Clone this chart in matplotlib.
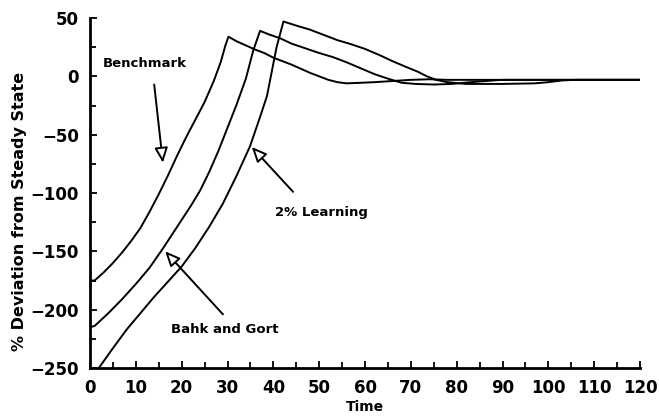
import matplotlib
matplotlib.use("Agg")
import matplotlib.pyplot as plt
from matplotlib.ticker import MultipleLocator

# values
bench_t = [0, 1, 3, 5, 7, 9, 11, 13, 15, 17, 19, 21, 23, 25, 27, 28.5, 29.5, 30.2,
           32, 34, 36, 38, 40, 42, 44, 46, 48, 50, 52, 54, 56, 58, 62, 66, 70, 74, 78, 120]
bench_v = [-175, -175, -168, -160, -151, -141, -130, -116, -101, -85, -68, -52, -37, -22, -4, 12, 26, 34,
           30, 26.5, 23, 20, 16, 13, 10, 6.5, 3, 0, -3, -5, -6, -5.7, -5, -4, -3, -2.5, -3, -3]

bahk_t = [0, 1, 4, 7, 10, 13, 16, 18, 20, 22, 24, 26, 28, 30, 32, 34, 35.6, 37.1,
          39, 41.5, 44, 47, 50, 53, 56, 59, 62, 65, 68, 71, 75, 79, 83, 87, 90, 120]
bahk_v = [-215, -214, -203, -191, -178, -164, -147, -135, -123, -111, -98, -82, -64, -44, -24, -2, 22, 39,
          36, 32.6, 28, 24, 20, 16.5, 12, 7, 2, -2, -5.5, -6.5, -7, -6.5, -5, -3.8, -3, -3]

learn_t = [0, 2.1, 5, 8, 11, 14, 17, 20, 23, 26, 29, 32, 34.9, 37, 38.6, 40.7, 42.2,
           45, 48, 51, 54, 57, 60, 63, 66, 69, 71.5, 73.5, 75.5, 78, 82, 90, 97, 100, 103, 106, 120]
learn_v = [-260, -249, -233, -217, -203, -189, -176, -163, -147, -129, -109, -85, -60, -36, -17, 25, 47,
           43.5, 40, 35.5, 31, 27.5, 23.5, 18.5, 13, 8, 4, 0, -3, -5, -6.5, -6.5, -6, -5, -3.5, -3, -3]

x_ticks = list(range(0, 121, 10))
y_ticks = [50, 0, -50, -100, -150, -200, -250]

fig = plt.figure(figsize=(6.59, 4.17), dpi=100)
ax = fig.add_axes([0.1366, 0.1175, 0.8346, 0.8393])

for t, v in [(bench_t, bench_v), (bahk_t, bahk_v), (learn_t, learn_v)]:
    ax.plot(t, v, color='black', lw=1.4)

ax.set_xlim(0, 120)
ax.set_ylim(-250, 50)
ax.set_xticks(x_ticks)
ax.set_yticks(y_ticks)
ax.set_yticklabels(['50', '0', '\u221250', '\u2212100', '\u2212150', '\u2212200', '\u2212250'])
ax.xaxis.set_minor_locator(MultipleLocator(5))
ax.yaxis.set_minor_locator(MultipleLocator(25))

for s in ['top', 'right']:
    ax.spines[s].set_visible(False)
for s in ['left', 'bottom']:
    ax.spines[s].set_linewidth(2)

ax.tick_params(which='major', direction='in', length=5, width=1.3, labelsize=12, pad=8)
ax.tick_params(which='minor', direction='in', length=4, width=1.3)
for lab in ax.get_xticklabels() + ax.get_yticklabels():
    lab.set_fontweight('bold')

ax.set_xlabel('Time', fontsize=10, fontweight='bold')
ax.xaxis.set_label_coords(0.5, -0.091)
ax.set_ylabel('% Deviation from Steady State', fontsize=11.5, fontweight='bold')
ax.yaxis.set_label_coords(-0.114, 0.446)

arrow = dict(arrowstyle='-|>,head_length=0.9,head_width=0.4', fc='white', ec='black', lw=1.4,
             shrinkA=0, shrinkB=0)
ax.annotate('', xy=(15.9, -74), xytext=(14, -7), arrowprops=arrow)
ax.text(12, 11, 'Benchmark', fontsize=9.5, fontweight='bold', ha='center', va='center')

ax.annotate('', xy=(35.3, -60.6), xytext=(44.3, -99), arrowprops=arrow)
ax.text(50.6, -117, '2% Learning', fontsize=9.5, fontweight='bold', ha='center', va='center')

ax.annotate('', xy=(16.4, -150), xytext=(29, -204), arrowprops=arrow)
ax.text(29.5, -217, 'Bahk and Gort', fontsize=9.5, fontweight='bold', ha='center', va='center')

fig.savefig('out.png', dpi=100)
